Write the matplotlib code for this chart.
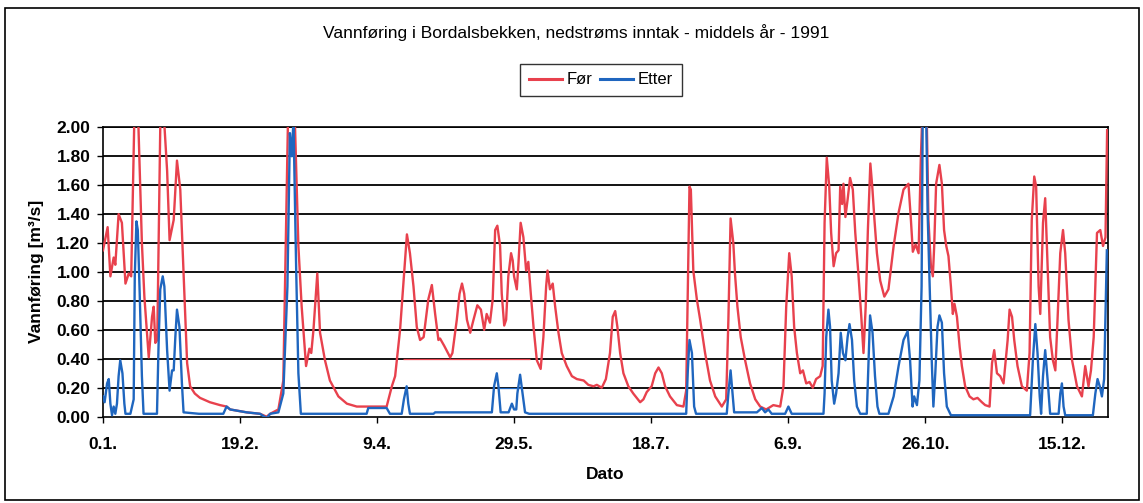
import matplotlib
matplotlib.use("Agg")
import matplotlib.pyplot as plt
from matplotlib.patches import Rectangle

plt.rcParams['font.family'] = ['Liberation Sans', 'DejaVu Sans']

# day number (Excel 1900 serial, 0 = "0.1.") and discharge in m3/s
for_days = [
    0, 1.7, 2.7, 3.9, 4.5, 5.7, 6.9, 8.2, 9.4, 10.3, 12.0, 14.2, 15.1, 16.7,
    17.9, 18.5, 19.1, 19.8, 21.2, 23.4, 24.3, 25.8, 27.0, 28.2, 29.4, 30.7,
    31.8, 33.5, 35.4, 39.0, 42.7, 45.1, 46.4, 52.4, 57.3, 59.7, 61.0, 64.0,
    65.8, 67.5, 68.8, 70.0, 71.3, 72.5, 74.1, 75.3, 76.0, 76.8, 78.2, 79.2,
    81.0, 82.8, 85.9, 89.0, 92.6, 96.2, 100.0, 103.5, 105.4, 106.6, 108.4,
    109.9, 110.9, 112.0, 113.3, 114.5, 115.7, 117.0, 118.7, 120.0, 121.2,
    122.4, 123.0, 124.5, 126.7, 127.5, 129.1, 130.1, 131.0, 131.8, 132.8,
    134.0, 135.2, 136.6, 137.9, 139.1, 140.0, 141.2, 142.2, 143.1, 143.9,
    144.9, 145.5, 146.4, 147.1, 147.9, 148.9, 149.5, 150.0, 151.0, 151.6,
    152.4, 153.4, 154.4, 155.2, 156.1, 157.1, 158.3, 159.7, 160.7, 161.7,
    162.2, 163.1, 164.1, 165.0, 166.2, 167.4, 169.2, 171.1, 172.9, 175.4,
    177.1, 179.0, 180.2, 182.0, 183.5, 185.0, 186.0, 186.9, 187.7, 188.7,
    189.9, 191.7, 193.5, 196.0, 197.2, 198.4, 200.2, 201.5, 202.7, 203.9,
    205.1, 206.9, 209.4, 211.8, 212.8, 213.4, 214.0, 214.5, 215.4, 216.7,
    217.9, 219.7, 221.5, 223.4, 225.8, 227.4, 228.2, 229.0, 230.0, 230.6,
    231.5, 232.7, 234.3, 236.1, 238.0, 239.8, 242.0, 244.6, 247.1, 248.3,
    249.3, 250.4, 251.3, 252.2, 253.2, 254.4, 255.4, 256.6, 257.8, 259.0,
    260.2, 261.7, 262.6, 263.3, 264.1, 265.0, 265.7, 266.6, 267.5, 268.4,
    269.0, 269.7, 270.2, 270.9, 271.7, 272.6, 273.6, 274.5, 275.7, 276.7,
    277.5, 278.3, 279.1, 280.0, 280.7, 281.5, 282.4, 283.6, 285.1, 286.6,
    288.5, 290.3, 292.1, 293.9, 294.8, 295.5, 296.5, 297.6, 298.4, 299.5,
    300.6, 301.2, 302.1, 302.8, 303.3, 304.0, 305.2, 306.1, 306.9, 307.7,
    308.5, 309.4, 310.1, 310.7, 311.6, 312.6, 313.4, 314.6, 316.2, 317.6,
    319.1, 320.7, 321.9, 323.5, 324.4, 325.2, 326.2, 327.4, 328.6, 330.1,
    330.8, 331.7, 332.5, 333.7, 335.3, 337.1, 338.1, 338.9, 339.8, 340.5,
    341.4, 342.0, 343.0, 343.8, 344.7, 345.6, 346.6, 347.5, 348.3, 349.3,
    350.3, 351.1, 352.3, 353.6, 355.4, 357.2, 358.4, 359.6, 360.5, 361.5,
    362.7, 363.9, 364.9, 365.8, 366.4,
]
for_vals = [
    1.15, 1.31, 0.97, 1.10, 1.05, 1.40, 1.34, 0.92, 0.99, 0.97, 2.60, 1.20,
    0.83, 0.41, 0.69, 0.76, 0.51, 0.53, 2.40, 1.70, 1.22, 1.36, 1.77, 1.57,
    0.99, 0.37, 0.21, 0.16, 0.13, 0.10, 0.08, 0.07, 0.05, 0.03, 0.02, 0.00,
    0.02, 0.05, 0.25, 2.05, 2.40, 2.05, 1.18, 0.76, 0.35, 0.47, 0.44, 0.60,
    0.99, 0.58, 0.39, 0.25, 0.14, 0.09, 0.07, 0.07, 0.07, 0.07, 0.21, 0.28,
    0.60, 0.99, 1.26, 1.13, 0.90, 0.62, 0.53, 0.55, 0.81, 0.91, 0.71, 0.53,
    0.54, 0.49, 0.41, 0.44, 0.67, 0.85, 0.92, 0.85, 0.67, 0.58, 0.67, 0.77,
    0.74, 0.60, 0.71, 0.65, 0.81, 1.29, 1.32, 1.18, 0.85, 0.63, 0.67, 0.97,
    1.13, 1.08, 0.97, 0.88, 1.06, 1.34, 1.24, 1.01, 1.07, 0.85, 0.62, 0.39,
    0.33, 0.55, 0.90, 1.01, 0.88, 0.92, 0.76, 0.58, 0.44, 0.35, 0.28, 0.26,
    0.25, 0.22, 0.21, 0.22, 0.20, 0.26, 0.44, 0.69, 0.73, 0.62, 0.44, 0.30,
    0.21, 0.16, 0.10, 0.12, 0.17, 0.21, 0.30, 0.34, 0.30, 0.21, 0.14, 0.08,
    0.07, 0.18, 0.90, 1.59, 1.57, 1.01, 0.81, 0.67, 0.44, 0.25, 0.14, 0.07,
    0.12, 0.67, 1.37, 1.20, 0.99, 0.76, 0.55, 0.39, 0.23, 0.12, 0.07, 0.05,
    0.08, 0.07, 0.21, 0.76, 1.13, 0.97, 0.62, 0.44, 0.30, 0.32, 0.23, 0.24,
    0.20, 0.26, 0.28, 0.35, 1.34, 1.79, 1.59, 1.27, 1.04, 1.13, 1.15, 1.59,
    1.47, 1.61, 1.38, 1.50, 1.65, 1.57, 1.27, 0.97, 0.69, 0.44, 0.76, 1.29,
    1.75, 1.59, 1.36, 1.13, 0.94, 0.83, 0.88, 1.18, 1.41, 1.57, 1.61, 1.36,
    1.14, 1.19, 1.13, 1.77, 2.40, 2.05, 1.36, 1.04, 0.97, 1.18, 1.61, 1.74,
    1.61, 1.29, 1.18, 1.11, 0.90, 0.71, 0.78, 0.69, 0.48, 0.35, 0.21, 0.14,
    0.12, 0.13, 0.10, 0.08, 0.07, 0.37, 0.46, 0.30, 0.28, 0.23, 0.53, 0.74,
    0.69, 0.53, 0.35, 0.21, 0.18, 0.44, 1.36, 1.66, 1.59, 0.90, 0.71, 1.34,
    1.51, 1.04, 0.55, 0.39, 0.32, 0.67, 1.13, 1.29, 1.13, 0.67, 0.39, 0.21,
    0.14, 0.35, 0.21, 0.32, 0.55, 1.27, 1.29, 1.18, 1.24, 1.98,
]

etter_days = [
    0, 0.6, 1.5, 2.1, 2.7, 3.3, 3.9, 4.5, 5.1, 5.7, 6.3, 7.1, 7.8, 8.2, 10.0,
    11.2, 11.6, 12.2, 12.7, 13.4, 14.2, 14.8, 19.7, 20.3, 20.9, 21.8, 22.4,
    23.4, 24.3, 25.2, 25.8, 26.4, 27.0, 27.9, 28.8, 29.4, 35.0, 43.9, 45.1,
    46.4, 52.4, 57.3, 59.7, 61.0, 64.0, 65.8, 67.3, 68.2, 68.9, 69.5, 70.5,
    71.3, 72.2, 96.2, 96.8, 103.5, 104.7, 109.0, 109.8, 110.8, 111.4, 112.0,
    120.6, 121.2, 141.9, 142.7, 143.7, 144.3, 145.1, 148.0, 149.2, 150.0,
    150.8, 151.2, 152.2, 153.1, 154.0, 155.5, 212.8, 213.4, 214.0, 214.9,
    215.7, 216.4, 227.6, 228.2, 229.0, 229.8, 230.3, 238.6, 240.4, 241.6,
    242.8, 244.0, 248.9, 250.1, 251.3, 262.9, 263.3, 263.9, 264.7, 265.3,
    265.9, 266.8, 267.5, 268.4, 269.2, 270.0, 270.9, 271.7, 272.4, 273.3,
    274.1, 275.1, 276.3, 278.7, 279.3, 279.9, 280.8, 281.7, 282.6, 283.3,
    286.6, 288.5, 290.3, 292.1, 293.6, 294.5, 295.4, 296.0, 297.0, 297.9,
    298.7, 299.1, 299.7, 300.4, 300.9, 301.6, 302.4, 303.0, 303.7, 304.5,
    305.2, 306.1, 306.9, 307.9, 309.4, 338.3, 339.3, 340.2, 341.0, 341.8,
    342.3, 343.0, 343.8, 344.7, 345.6, 348.7, 349.3, 349.9, 350.5, 351.1,
    361.2, 362.1, 362.9, 363.7, 364.5, 365.3, 366.3,
]
etter_vals = [
    0.14, 0.10, 0.23, 0.26, 0.09, 0.01, 0.07, 0.02, 0.09, 0.28, 0.39, 0.30,
    0.09, 0.02, 0.02, 0.12, 0.97, 1.35, 1.29, 0.85, 0.28, 0.02, 0.02, 0.51,
    0.88, 0.97, 0.90, 0.46, 0.18, 0.32, 0.32, 0.55, 0.74, 0.62, 0.23, 0.03,
    0.02, 0.02, 0.07, 0.05, 0.03, 0.02, -0.01, 0.02, 0.03, 0.16, 0.90, 1.96,
    1.80, 2.05, 1.01, 0.30, 0.02, 0.02, 0.06, 0.06, 0.02, 0.02, 0.12, 0.21,
    0.09, 0.02, 0.02, 0.03, 0.03, 0.21, 0.30, 0.21, 0.03, 0.03, 0.09, 0.05,
    0.05, 0.16, 0.29, 0.16, 0.03, 0.02, 0.02, 0.32, 0.53, 0.44, 0.07, 0.02,
    0.02, 0.16, 0.32, 0.14, 0.03, 0.03, 0.06, 0.03, 0.05, 0.02, 0.02, 0.07,
    0.02, 0.02, 0.16, 0.55, 0.74, 0.62, 0.25, 0.09, 0.16, 0.30, 0.58, 0.44,
    0.39, 0.55, 0.64, 0.53, 0.25, 0.07, 0.02, 0.02, 0.37, 0.70, 0.58, 0.28,
    0.07, 0.02, 0.02, 0.14, 0.35, 0.53, 0.59, 0.39, 0.07, 0.14, 0.08, 0.25,
    0.90, 2.05, 2.30, 2.05, 1.41, 0.94, 0.39, 0.07, 0.30, 0.62, 0.70, 0.65,
    0.30, 0.07, 0.01, 0.01, 0.39, 0.64, 0.44, 0.14, 0.02, 0.28, 0.46, 0.25,
    0.02, 0.02, 0.16, 0.23, 0.07, 0.01, 0.01, 0.16, 0.26, 0.21, 0.14, 0.26,
    1.15,
]

tick_days = [0, 50, 100, 150, 200, 250, 300, 350]
tick_labels = ["0.1.", "19.2.", "9.4.", "29.5.", "18.7.", "6.9.", "26.10.", "15.12."]
y_ticks = [0.0, 0.2, 0.4, 0.6, 0.8, 1.0, 1.2, 1.4, 1.6, 1.8, 2.0]

RED = "#e8414d"
BLUE = "#1f66bf"

fig = plt.figure(figsize=(11.43, 5.03), dpi=100)
fig.patches.append(Rectangle((5 / 1143, 3 / 503), 1134 / 1143, 492 / 503,
                             transform=fig.transFigure, fill=False,
                             edgecolor="black", linewidth=1.2))

ax = fig.add_axes([0.0901, 0.1716, 0.8790, 0.5753])
ax.set_xlim(0, 366.6)
ax.set_ylim(0, 2.0)

for y in y_ticks[1:]:
    ax.axhline(y, color="black", linewidth=1.3, zorder=1)
# faint coloured stretches on the 0.40 and 0.20 gridlines
ax.hlines(0.40, 109.6, 155.8, color=RED, linewidth=0.9, zorder=1.5)
ax.hlines(0.20, 144.3, 152.8, color=BLUE, linewidth=0.9, zorder=1.5)

ax.plot(for_days, for_vals, color=RED, linewidth=1.7, label="Før", zorder=3)
ax.plot(etter_days, etter_vals, color=BLUE, linewidth=1.7, label="Etter", zorder=4)

ax.set_xticks(tick_days)
ax.set_xticklabels(tick_labels)
ax.set_yticks(y_ticks)
ax.set_yticklabels([f"{v:.2f}" for v in y_ticks])
ax.tick_params(axis="y", direction="out", length=4.3, width=1, pad=4.8,
               labelsize=12.5)
ax.tick_params(axis="x", direction="out", length=4.3, width=1, pad=10,
               labelsize=12.5)
for lab in ax.get_xticklabels() + ax.get_yticklabels():
    lab.set_fontweight("bold")
for sp in ax.spines.values():
    sp.set_linewidth(1.2)

fig.text(0.0315, 0.461, "Vannføring [m³/s]", rotation=90, ha="center",
         va="center", fontsize=12.5, fontweight="bold")
fig.text(0.529, 0.0557, "Dato", ha="center", va="center", fontsize=12.5,
         fontweight="bold")
fig.text(576 / 1143, 1 - 33 / 503,
         "Vannføring i Bordalsbekken, nedstrøms inntak - middels år - 1991",
         ha="center", va="center", fontsize=12.5)

leg = ax.legend(loc="center", bbox_to_anchor=(601 / 1143, 1 - 80 / 503),
                bbox_transform=fig.transFigure, ncol=2, fontsize=12,
                frameon=True, fancybox=False, handlelength=2.0,
                handletextpad=0.3, columnspacing=0.4, borderpad=0.5,
                borderaxespad=0)
leg.get_frame().set_edgecolor("black")
leg.get_frame().set_linewidth(1.0)
for line in leg.get_lines():
    line.set_linewidth(2.2)

fig.savefig("out.png", dpi=100)
